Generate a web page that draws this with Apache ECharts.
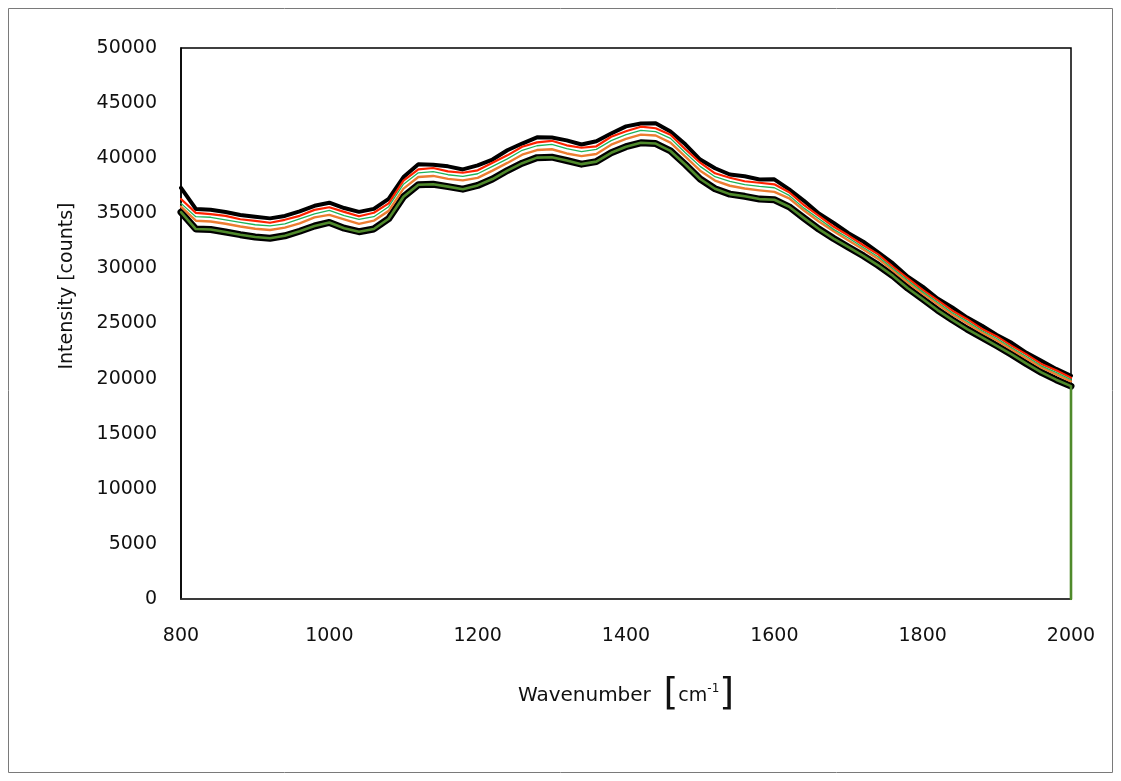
<!DOCTYPE html>
<html>
<head>
<meta charset="utf-8">
<script src="https://cdn.jsdelivr.net/npm/echarts@6/dist/echarts.min.js"></script>
<style>
html,body{margin:0;padding:0;background:#fff;}
#c{width:1121px;height:781px;}
</style>
</head>
<body>
<div id="c"></div>
<script>
// Wavenumber samples [cm-1]
const wavenumbers = [800,820,840,860,880,900,920,940,960,980,1000,1020,1040,1060,1080,1100,1120,1140,1160,1180,1200,1220,1240,1260,1280,1300,1320,1340,1360,1380,1400,1420,1440,1460,1480,1500,1520,1540,1560,1580,1600,1620,1640,1660,1680,1700,1720,1740,1760,1780,1800,1820,1840,1860,1880,1900,1920,1940,1960,1980,2000];

// Spectra (intensity, counts), top to bottom
const blackTop = [37300,35400,35330,35120,34850,34680,34540,34760,35180,35680,35960,35480,35130,35400,36310,38290,39450,39410,39260,38980,39350,39880,40720,41330,41890,41880,41620,41240,41540,42240,42890,43150,43180,42420,41260,39880,39090,38520,38360,38070,38080,37170,36130,34980,34130,33190,32430,31450,30450,29250,28350,27270,26460,25540,24790,23960,23250,22340,21610,20880,20260];
const redLine = [36300,35040,34920,34760,34460,34310,34140,34410,34770,35310,35550,35130,34730,35050,35900,37960,38990,39110,38810,38680,38900,39590,40260,41040,41440,41580,41170,40950,41080,41950,42440,42860,42720,42130,40810,39590,38630,38230,37910,37770,37630,36910,35740,34760,33780,32980,32100,31270,30150,29100,28050,27120,26160,25390,24510,23830,22970,22200,21330,20750,20070];
const greenLine = [35900,34690,34640,34400,34180,33960,33860,34050,34490,34950,35270,34780,34450,34690,35600,37640,38670,38790,38500,38350,38590,39260,39940,40720,41130,41250,40860,40590,40800,41590,42130,42530,42410,41800,40500,39260,38320,37900,37600,37440,37320,36620,35470,34500,33540,32760,31890,31060,29960,28900,27870,26920,25980,25190,24340,23640,22800,22010,21160,20560,19900];
const orangeLine = [35600,34330,34260,34050,33800,33600,33490,33700,34080,34630,34860,34450,34040,34330,35220,37240,38300,38390,38120,37990,38210,38870,39570,40320,40740,40810,40430,40190,40380,41230,41750,42140,42060,41410,40150,38870,37970,37500,37250,37080,36940,36350,35250,34250,33370,32530,31720,30860,29800,28720,27710,26750,25820,25000,24190,23460,22650,21830,21020,20380,19750];
const darkGreen = [35100,33570,33530,33310,33060,32850,32740,32960,33370,33850,34170,33650,33330,33580,34510,36500,37590,37630,37420,37190,37530,38110,38880,39550,40050,40090,39790,39460,39690,40490,41040,41400,41330,40660,39430,38110,37230,36740,36540,36290,36230,35590,34560,33570,32710,31920,31140,30280,29320,28200,27220,26220,25330,24490,23740,22980,22190,21350,20560,19900,19320];
// Closing point of the green trace (drops to the baseline at 2000)
const greenEnd = [2000, 0];

const yTicks = {min: 0, max: 50000, interval: 5000};
const xTicks = {min: 800, max: 2000, interval: 200};

function pairs(vals) { return wavenumbers.map((w, i) => [w, vals[i]]); }

const chart = echarts.init(document.getElementById('c'), null, {renderer: 'canvas'});
const FONT = 'DejaVu Sans';

function line(name, vals, color, width, z) {
  return {
    name, type: 'line', data: vals, showSymbol: false, symbol: 'none',
    lineStyle: {color, width, join: 'round', cap: 'round'}, z,
    animation: false, silent: true
  };
}

chart.setOption({
  backgroundColor: '#fff',
  animation: false,
  grid: {left: 181, right: 50, top: 48, bottom: 182, show: true, borderColor: '#000', borderWidth: 1.5, backgroundColor: 'transparent'},
  xAxis: {
    type: 'value', min: xTicks.min, max: xTicks.max, interval: xTicks.interval,
    axisLine: {show: true, lineStyle: {color: '#3a3a3a', width: 1.5}},
    axisTick: {show: false}, splitLine: {show: false},
    axisLabel: {fontFamily: FONT, fontSize: 19, color: '#111', margin: 28, formatter: v => String(v)},
    name: 'Wavenumber  {b|[}{t|cm}{s|-1}{b|]}',
    nameLocation: 'middle', nameGap: 76,
    nameTextStyle: {
      fontFamily: FONT, fontSize: 20, color: '#111',
      rich: {
        b: {fontFamily: FONT, fontSize: 38, color: '#111', verticalAlign: 'middle', padding: [0, 0, 4, 0]},
        t: {fontFamily: FONT, fontSize: 19, color: '#111', verticalAlign: 'middle'},
        s: {fontFamily: FONT, fontSize: 12, color: '#111', verticalAlign: 'middle', padding: [0, 0, 14, 0]}
      }
    }
  },
  yAxis: {
    type: 'value', min: yTicks.min, max: yTicks.max, interval: yTicks.interval,
    axisLine: {show: true, lineStyle: {color: '#000', width: 1.5}},
    axisTick: {show: false}, splitLine: {show: false},
    axisLabel: {fontFamily: FONT, fontSize: 19, color: '#111', margin: 24, formatter: v => String(v)}
  },
  graphic: [
    {type: 'rect', shape: {x: 8.5, y: 8.5, width: 1104, height: 764}, style: {fill: 'none', stroke: '#7a7a7a', lineWidth: 1}, z: -1, silent: true},
    {type: 'text', x: 67, y: 286, rotation: Math.PI / 2,
     style: {text: 'Intensity [counts]', fontFamily: FONT, fontSize: 19, fill: '#111', align: 'center', verticalAlign: 'middle'}, silent: true}
  ],
  series: [
    line('black top', pairs(blackTop), '#000000', 4, 2),
    line('outline', pairs(darkGreen), '#000000', 7, 2),
    line('red', pairs(redLine), '#ff2200', 2.2, 5),
    line('green', pairs(greenLine), '#1db35a', 1.3, 6),
    line('orange', pairs(orangeLine), '#ed7d31', 2.4, 4),
    line('dark green', pairs(darkGreen).concat([greenEnd]), '#4f8a2b', 2.6, 7)
  ]
});
</script>
</body>
</html>
